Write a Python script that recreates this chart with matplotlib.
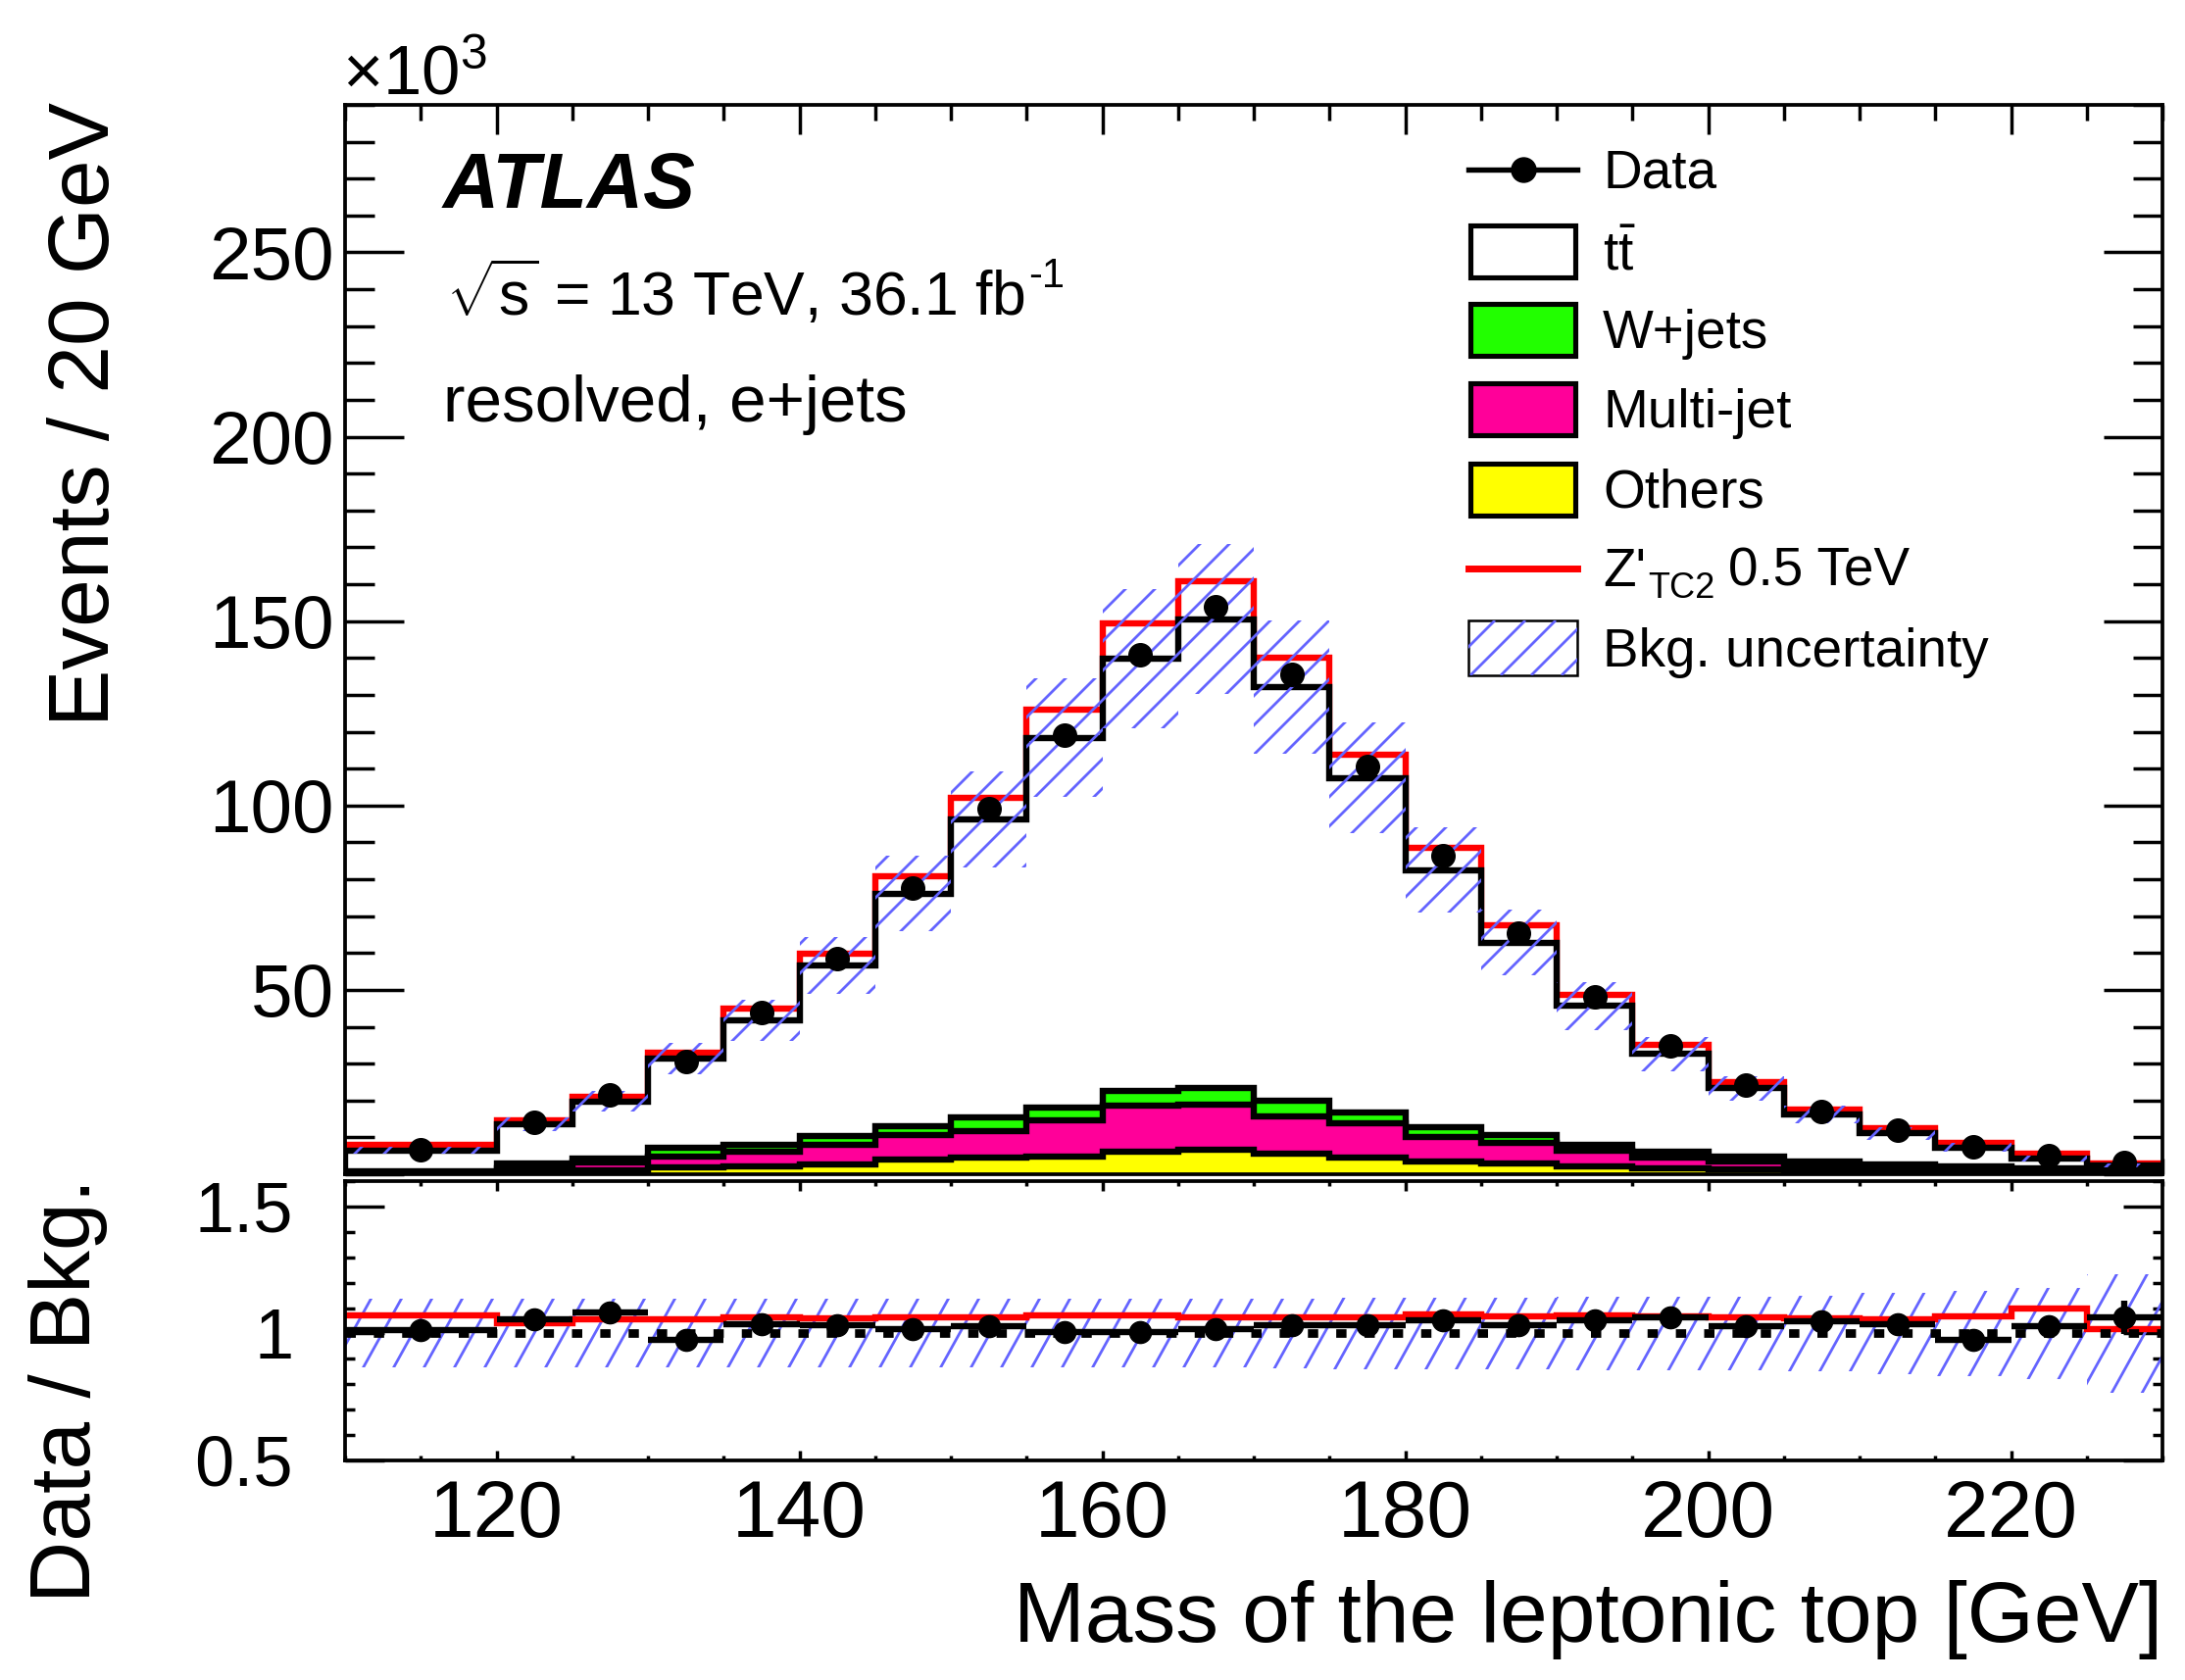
import numpy as np
import matplotlib
matplotlib.use('Agg')
import matplotlib.pyplot as plt
from matplotlib.patches import Rectangle
from matplotlib.lines import Line2D
from matplotlib.collections import LineCollection
from matplotlib.ticker import MultipleLocator, FixedLocator, FuncFormatter

plt.rcParams['font.family'] = ['Liberation Sans', 'DejaVu Sans']
plt.rcParams['mathtext.fontset'] = 'custom'
plt.rcParams['mathtext.rm'] = 'Liberation Sans'
plt.rcParams['mathtext.it'] = 'Liberation Sans:italic'
plt.rcParams['mathtext.bf'] = 'Liberation Sans:bold'

# ---------------- data (x10^3 events) ----------------
bin_edges = [110, 120, 125, 130, 135, 140, 145, 150, 155, 160, 165, 170, 175,
             180, 185, 190, 195, 200, 205, 210, 215, 220, 225, 230]
ttbar = [5.7, 10.5, 15.6, 24.3, 33.8, 46.3, 63.1, 80.9, 100.3, 117.2, 127.0, 112.1,
         90.7, 69.7, 52.2, 37.5, 26.4, 18.4, 12.6, 8.45, 5.3, 2.7, 1.1]
wjets = [0.3, 1.5, 0.9, 2.2, 2.0, 2.3, 2.4, 3.6, 3.5, 3.9, 4.7, 4.2,
         3.1, 2.8, 2.2, 1.6, 1.6, 1.4, 1.0, 0.85, 0.8, 0.7, 0.5]
multijet = [0.2, 1.0, 2.2, 3.1, 3.8, 5.35, 6.6, 7.3, 9.7, 12.4, 12.2, 10.0,
            9.1, 6.5, 5.6, 4.3, 3.0, 2.2, 1.7, 1.3, 0.8, 0.6, 0.5]
others = [0.3, 0.5, 1.1, 1.8, 2.2, 2.65, 4.0, 4.4, 4.9, 6.2, 6.6, 5.7,
          4.6, 3.5, 2.8, 2.2, 1.6, 1.3, 0.8, 0.5, 0.4, 0.3, 0.2]
bkg_plus_zprime = [7.9, 14.7, 21.0, 33.0, 44.8, 59.8, 80.8, 102.1, 126.1, 149.5, 160.7, 140.2,
                   113.9, 88.5, 67.5, 48.6, 35.2, 25.1, 17.6, 12.5, 8.5, 5.5, 2.8]
data = [6.7, 14.2, 21.4, 30.5, 43.8, 58.6, 77.5, 99.1, 119.0, 140.9, 153.9, 135.6,
        110.7, 86.4, 65.3, 48.2, 34.7, 24.3, 16.9, 11.9, 7.4, 5.0, 3.2]
bkg_rel_unc = [0.135, 0.135, 0.135, 0.135, 0.135, 0.135, 0.135, 0.135, 0.135, 0.135, 0.135, 0.137,
               0.14, 0.14, 0.142, 0.145, 0.145, 0.145, 0.148, 0.16, 0.167, 0.18, 0.235]
ratio_data = [1.013, 1.056, 1.084, 0.974, 1.036, 1.032, 1.019, 1.029, 1.006, 1.006, 1.019, 1.032,
              1.032, 1.051, 1.032, 1.051, 1.064, 1.030, 1.048, 1.035, 0.974, 1.030, 1.064]
ratio_data_err = [0.01, 0.01, 0.01, 0.01, 0.01, 0.01, 0.01, 0.01, 0.01, 0.01, 0.01, 0.01,
                  0.01, 0.01, 0.01, 0.01, 0.01, 0.01, 0.01, 0.015, 0.02, 0.03, 0.065]
ratio_zprime = [1.070, 1.040, 1.055, 1.055, 1.065, 1.058, 1.062, 1.062, 1.073, 1.073, 1.064, 1.062,
                1.062, 1.075, 1.068, 1.070, 1.066, 1.064, 1.060, 1.057, 1.067, 1.098, 1.017]
x_ticks = [120, 140, 160, 180, 200, 220]
y_ticks = [0, 50, 100, 150, 200, 250]
ratio_ticks = [0.5, 1.0, 1.5]
ratio_ticklabels = ['0.5', '1', '1.5']

legend_labels = ['Data', r'$\mathregular{t\bar{t}}$', 'W+jets', 'Multi-jet', 'Others',
                 "Z'", 'Bkg. uncertainty']

# ---------------- derived ----------------
edges = np.array(bin_edges, dtype=float)
centers = 0.5 * (edges[:-1] + edges[1:])
halfw = 0.5 * (edges[1:] - edges[:-1])
c_oth = np.array(others)
c_mj = c_oth + np.array(multijet)
c_wj = c_mj + np.array(wjets)
c_tot = c_wj + np.array(ttbar)
unc = np.array(bkg_rel_unc)

# ---------------- figure ----------------
W, H = 2229, 1714
DPI = 100
fig = plt.figure(figsize=(W / DPI, H / DPI), dpi=DPI)


def fx(px):
    return px / W


def fy(py):
    return 1 - py / H


AX_L, AX_R = 352, 2206
ax = fig.add_axes([fx(AX_L), fy(1198), fx(AX_R) - fx(AX_L), fy(107) - fy(1198)])
rax = fig.add_axes([fx(AX_L), fy(1490), fx(AX_R) - fx(AX_L), fy(1205) - fy(1490)])

HIST_LW = 4.6
HATCH_COLOR = '#6464ff'


def add_hatch(axis, clip_patch, spacing_px, angle_deg, zorder):
    bb = axis.get_position()
    wpx = bb.width * W
    hpx = bb.height * H
    dx = hpx / np.tan(np.radians(angle_deg))
    segs = []
    c = -dx - spacing_px
    while c < wpx + spacing_px:
        segs.append([(c / wpx, 0.0), ((c + dx) / wpx, 1.0)])
        c += spacing_px
    lc = LineCollection(segs, colors=HATCH_COLOR, linewidths=2.0,
                        transform=axis.transAxes, zorder=zorder)
    axis.add_collection(lc, autolim=False)
    lc.set_clip_path(clip_patch)


# main panel
ax.stairs(bkg_plus_zprime, edges, color='#ff0000', linewidth=HIST_LW, baseline=None, zorder=2)
ax.stairs(c_tot, edges, fill=True, facecolor='white', edgecolor='black', linewidth=HIST_LW, zorder=3)
ax.stairs(c_wj, edges, fill=True, facecolor='#22ff00', edgecolor='black', linewidth=HIST_LW, zorder=4)
ax.stairs(c_mj, edges, fill=True, facecolor='#ff0099', edgecolor='black', linewidth=HIST_LW, zorder=5)
ax.stairs(c_oth, edges, fill=True, facecolor='#ffff00', edgecolor='black', linewidth=HIST_LW, zorder=6)
band = ax.stairs(c_tot * (1 + unc), edges, baseline=c_tot * (1 - unc), fill=True,
                 facecolor='none', edgecolor='none', zorder=1)
add_hatch(ax, band, 30, 45, 7)
ax.plot(centers, data, 'o', color='black', markersize=17, zorder=8)

ax.set_xlim(110, 230)
ax.set_ylim(0, 290)

# ratio panel
rband = rax.stairs(1 + unc, edges, baseline=1 - unc, fill=True,
                   facecolor='none', edgecolor='none', zorder=1)
add_hatch(rax, rband, 31, 61, 2)
rax.stairs(ratio_zprime, edges, color='#ff0000', linewidth=HIST_LW, baseline=None, zorder=3)
rax.axhline(1.0, color='black', linewidth=6.3, dashes=(1.2, 2.1), zorder=4)
rax.errorbar(centers, ratio_data, xerr=halfw, yerr=ratio_data_err, fmt='o', color='black',
             markersize=16, elinewidth=4.6, capsize=0, zorder=6)
rax.set_xlim(110, 230)
rax.set_ylim(0.5, 1.6)

# axes styling
for a in (ax, rax):
    for s in a.spines.values():
        s.set_linewidth(2.7)
        s.set_zorder(10)

ax.xaxis.set_major_locator(FixedLocator(x_ticks))
ax.xaxis.set_minor_locator(MultipleLocator(5))
ax.yaxis.set_major_locator(FixedLocator(y_ticks))
ax.yaxis.set_minor_locator(MultipleLocator(10))
ax.yaxis.set_major_formatter(FuncFormatter(lambda v, p: '' if v == 0 else f'{v:g}'))
ax.tick_params(axis='x', which='major', direction='in', length=21.6, width=2.5,
               top=True, bottom=True, labelbottom=False)
ax.tick_params(axis='x', which='minor', direction='in', length=11.5, width=2.5,
               top=True, bottom=True)
ax.tick_params(axis='y', which='major', direction='in', length=43, width=2.5,
               left=True, right=True, labelsize=55, pad=8)
ax.tick_params(axis='y', which='minor', direction='in', length=21.6, width=2.5,
               left=True, right=True)

rax.xaxis.set_major_locator(FixedLocator(x_ticks))
rax.xaxis.set_minor_locator(MultipleLocator(5))
rax.yaxis.set_major_locator(FixedLocator(ratio_ticks))
rax.set_yticklabels(ratio_ticklabels)
rax.yaxis.set_minor_locator(MultipleLocator(0.1))
rax.tick_params(axis='x', which='major', direction='in', length=7.2, width=2.5,
                top=True, bottom=True, labelsize=59, pad=14)
rax.tick_params(axis='x', which='minor', direction='in', length=3.6, width=2.5,
                top=True, bottom=True)
rax.tick_params(axis='y', which='major', direction='in', length=28.8, width=2.5,
                left=True, right=True, labelsize=52, pad=38)
rax.tick_params(axis='y', which='minor', direction='in', length=7.2, width=2.5,
                left=True, right=True)

# axis titles
fig.text(fx(111), fy(104), 'Events / 20 GeV', rotation=90, rotation_mode='anchor',
         ha='right', va='baseline', fontsize=63)
fig.text(fx(92), fy(1202), 'Data / Bkg.', rotation=90, rotation_mode='anchor',
         ha='right', va='baseline', fontsize=63)
fig.text(fx(2206), fy(1675), 'Mass of the leptonic top [GeV]', ha='right', va='baseline',
         fontsize=63)
fig.text(fx(349), fy(96), r'$\mathregular{×10^{3}}$', ha='left', va='baseline', fontsize=51)

# labels
fig.text(fx(452), fy(212), 'ATLAS', fontsize=57, fontweight='bold', fontstyle='italic',
         ha='left', va='baseline')
t_lumi = fig.text(fx(455), fy(322), r'$\sqrt{\mathregular{s}}$ = 13 TeV, 36.1 fb',
                  fontsize=45, ha='left', va='baseline')
fig.text(fx(452), fy(430), 'resolved, e+jets', fontsize=48.5, ha='left', va='baseline')

renderer = fig.canvas.get_renderer()
bb_lumi = t_lumi.get_window_extent(renderer)
fig.text((bb_lumi.x1 + 3) / W, fy(293), '-1', fontsize=30, ha='left', va='baseline')

# legend (manual)
LEG_FS = 39.5
sym_x0, sym_x1 = 1498, 1609
text_x = 1635
centers_y = [173, 256, 336, 417, 499, 580, 661]

# Data
fig.add_artist(Line2D([fx(sym_x0), fx(sym_x1)], [fy(centers_y[0])] * 2, color='black',
                      linewidth=3.9, transform=fig.transFigure))
fig.add_artist(Line2D([fx(0.5 * (sym_x0 + sym_x1))], [fy(centers_y[0])], marker='o',
                      markersize=18, color='black', linestyle='none', transform=fig.transFigure))
box_colors = ['white', '#22ff00', '#ff0099', '#ffff00']
for i, col in enumerate(box_colors):
    cy = centers_y[i + 1]
    r = Rectangle((fx(sym_x0 + 2), fy(cy + 26.5)), fx(sym_x1 - sym_x0 - 4), fy(0) - fy(53),
                  facecolor=col, edgecolor='black', linewidth=3.7, transform=fig.transFigure)
    fig.add_artist(r)
# Z' line
fig.add_artist(Line2D([fx(sym_x0), fx(sym_x1)], [fy(centers_y[5])] * 2, color='#ff0000',
                      linewidth=5.0, transform=fig.transFigure))
# bkg uncertainty box
cy = centers_y[6]
hb = Rectangle((fx(sym_x0), fy(cy + 28)), fx(sym_x1 - sym_x0), fy(0) - fy(56),
               facecolor='white', edgecolor='black', linewidth=1.8, transform=fig.transFigure,
               zorder=2)
fig.add_artist(hb)
clip_r = Rectangle((fx(sym_x0), fy(cy + 28)), fx(sym_x1 - sym_x0), fy(0) - fy(56),
                   facecolor='none', edgecolor='none', transform=fig.transFigure)
fig.add_artist(clip_r)
segs = []
for c in np.arange(sym_x0 - 60, sym_x1 + 40, 31):
    segs.append([(fx(c), fy(cy + 28)), (fx(c + 56), fy(cy - 28))])
lc = LineCollection(segs, colors=HATCH_COLOR, linewidths=2.0, transform=fig.transFigure, zorder=3)
fig.add_artist(lc)
lc.set_clip_path(clip_r)

# legend texts
for i, lab in enumerate(legend_labels):
    if i == 5:
        continue
    fig.text(fx(text_x), fy(centers_y[i] + 19), lab, fontsize=LEG_FS, ha='left', va='baseline')
fig.text(fx(text_x), fy(centers_y[5] + 18), "Z'", fontsize=LEG_FS, ha='left', va='baseline')
fig.text(fx(1681), fy(610), 'TC2', fontsize=26, ha='left', va='baseline')
fig.text(fx(1763), fy(centers_y[5] + 18), '0.5 TeV', fontsize=LEG_FS, ha='left', va='baseline')

fig.savefig('out.png', dpi=DPI)
